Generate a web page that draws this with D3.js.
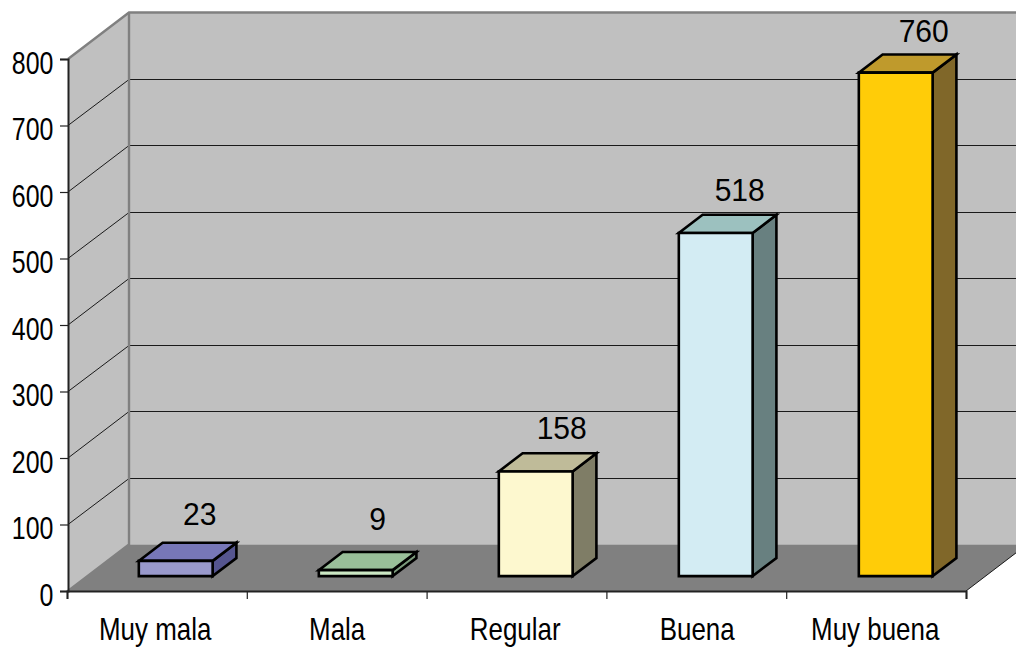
<!DOCTYPE html>
<html><head><meta charset="utf-8">
<script src="https://cdnjs.cloudflare.com/ajax/libs/d3/7.8.5/d3.min.js"></script>
<style>html,body{margin:0;padding:0;background:#fff;overflow:hidden}svg{display:block}
text{font-family:"Liberation Sans",Arial,sans-serif;fill:#000}</style></head><body>
<svg id="c" width="1016" height="648"></svg>
<script>
const categories=["Muy mala","Mala","Regular","Buena","Muy buena"];
const values=[23,9,158,518,760];
const yTicks=[0,100,200,300,400,500,600,700,800];
const frontColors=["#9999CC","#CCE8C4","#FDF8CF","#D3ECF3","#FFCC08"];
const topColors=["#7777B8","#99BF99","#BFBB99","#9CC1BF","#BF9A2C"];
const sideColors=["#55558F","#7B9A7B","#7F7D66","#688080","#806729"];
const labelNudgeX=[-1,-3,1,-1,3], labelNudgeY=[-6,-10,-2,-2,-1];
const catNudgeX=[0,2,0,2,0];

const svg=d3.select("#c");
const x=d3.scaleBand().domain(categories).range([66.2,966.2]).paddingInner(0.59).paddingOuter(0.295);
const step=d3.scaleLinear().domain([0,5]).range([67,966]);
const y=d3.scaleLinear().domain([0,800]).range([591,59]);
const barY=d3.scaleLinear().domain([0,800]).range([591,61]);
const dz={x:61,y:-46.5};
const P=(px,py,z)=>[px+dz.x*z,py+dz.y*z];
const line=d3.line();
const poly=(pts,fill,stroke,w)=>svg.append("path").attr("d",line(pts)+"Z").attr("fill",fill)
  .attr("stroke",stroke||"none").attr("stroke-width",w||0).attr("stroke-linejoin","miter");
const X0=68,X1=966;

// walls
poly([P(X0,y(0),0),P(X0,y(800),0),P(X0,y(800),1),P(X0,y(0),1)],"#C0C0C0");
poly([P(X0,y(0),1),P(X0,y(800),1),P(X1,y(800),1),P(X1,y(0),1)],"#C0C0C0");
poly([P(X0,y(0),0),P(X1,y(0),0),P(X1,y(0),1),P(X0,y(0),1)],"#808080");

// grid
yTicks.slice(1,-1).forEach(t=>{
  const a=P(X0,y(t),0),b=P(X0,y(t),1);
  const by=Math.floor(b[1])+0.5;
  svg.append("path").attr("d",line([a,[b[0],by],[1016,by]])).attr("fill","none").attr("stroke","#1a1a1a").attr("stroke-width",1);
});
// wall edges
svg.append("path").attr("d",line([P(X0,y(800),0),P(X0,y(800),1),P(X1,y(800),1)])).attr("fill","none").attr("stroke","#808080").attr("stroke-width",2.4);
svg.append("path").attr("d",line([P(X0,y(800),1),P(X0,y(0),1),P(X0,y(0),0)])).attr("fill","none").attr("stroke","#808080").attr("stroke-width",2.4);
svg.append("path").attr("d",line([P(X1,y(0),0),P(X1,y(0),1)])).attr("fill","none").attr("stroke","#1a1a1a").attr("stroke-width",1);

// axes
const gy=svg.append("g").attr("transform","translate(68,0)").call(d3.axisLeft(y).tickValues(yTicks).tickSize(8).tickFormat(""));
const gx=svg.append("g").attr("transform","translate(0,591)").call(d3.axisBottom(step).ticks(5).tickSize(8).tickFormat(""));
[gy,gx].forEach(g=>{g.selectAll("path").attr("stroke","#222").attr("stroke-width",2);g.selectAll("line").attr("stroke","#222").attr("stroke-width",1.2);});

// y labels
svg.selectAll(".yl").data(yTicks).join("text").attr("class","yl")
  .attr("transform",d=>`translate(53.5,${y(d)+14.5}) scale(0.78,1)`).attr("text-anchor","end").attr("font-size",32).text(d=>d);
// x labels
svg.selectAll(".xl").data(categories).join("text").attr("class","xl")
  .attr("transform",(d,i)=>`translate(${x(d)+x.bandwidth()/2-1+catNudgeX[i]},640) scale(0.81,1)`).attr("text-anchor","middle").attr("font-size",32).text(d=>d);

// bars
const z0=0.32,z1=0.71;
values.forEach((v,i)=>{
  const c=categories[i],l=x(c),r=l+x.bandwidth(),b=barY(0),t=barY(v);
  poly([P(r,b,z0),P(r,t,z0),P(r,t,z1),P(r,b,z1)],sideColors[i],"#000",2.6);
  poly([P(l,t,z0),P(r,t,z0),P(r,t,z1),P(l,t,z1)],topColors[i],"#000",2.6);
  poly([P(l,b,z0),P(r,b,z0),P(r,t,z0),P(l,t,z0)],frontColors[i],"#000",2.6);
  const a=P((l+r)/2,t,z0);
  svg.append("text").attr("transform",`translate(${a[0]+25+labelNudgeX[i]},${a[1]-30+labelNudgeY[i]}) scale(0.94,1)`)
    .attr("text-anchor","middle").attr("font-size",32).text(v);
});
</script></body></html>
